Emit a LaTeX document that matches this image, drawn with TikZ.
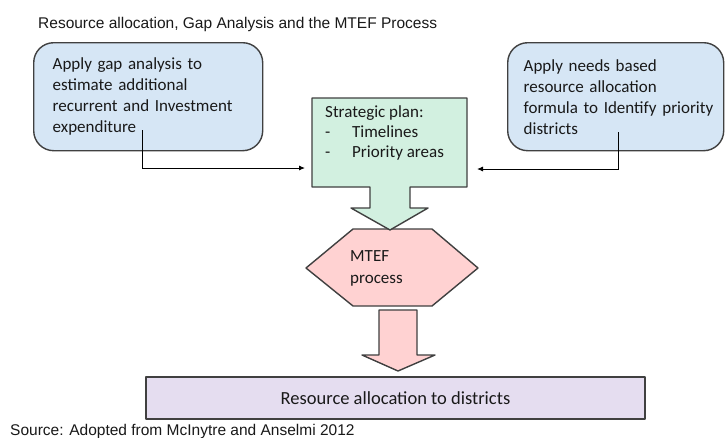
\documentclass[tikz,border=0pt]{standalone}
\usepackage{fontspec}
\setmainfont{Carlito}
\newfontfamily\arialfont{Liberation Sans}
\usetikzlibrary{arrows.meta,calc}
\definecolor{bluefill}{RGB}{214,230,245}
\definecolor{greenfill}{RGB}{210,240,224}
\definecolor{pinkfill}{RGB}{255,210,210}
\definecolor{purplefill}{RGB}{229,221,240}
\definecolor{edgecol}{RGB}{64,64,64}
\begin{document}
\begin{tikzpicture}[x=1pt,y=-1pt,
  boxtxt/.style={font=\fontsize{17}{21}\selectfont, text=black!90},
  outline/.style={draw=edgecol, line width=1.4pt, line join=round},
  conn/.style={draw=black, line width=0.9pt, -{Latex[length=6pt,width=5pt]}},
  sanstxt/.style={font=\arialfont\fontsize{15.5}{18}\selectfont, inner sep=0pt, text=black!90}]
\useasboundingbox (0,0) rectangle (725,437);
\fill[white] (0,0) rectangle (725,437);

% title
\node[sanstxt, anchor=base west] (title) at (38,28) {Resource allocation, Gap Analysis and the MTEF Process};

% side boxes
\node[outline, fill=bluefill, rounded corners=20pt, anchor=north west,
      minimum width=229pt, minimum height=108pt, inner xsep=19pt, inner ysep=0pt,
      text width=191pt, align=left, boxtxt] (lbox) at (33,42)
  {\mbox{Apply gap analysis to}\\ \mbox{estimate additional}\\ \mbox{recurrent and Investment}\\ \mbox{expenditure}};
\node[outline, fill=bluefill, rounded corners=20pt, anchor=north west,
      minimum width=216pt, minimum height=108pt, inner xsep=16pt, inner ysep=0pt,
      text width=184pt, align=left, boxtxt] (rbox) at (507,42)
  {\mbox{Apply needs based}\\ \mbox{resource allocation}\\ \mbox{formula to Identify priority}\\ \mbox{districts}};

% hexagon (MTEF)
\filldraw[outline, fill=pinkfill] (306,268) -- (353,229) -- (432,229) -- (478,268) -- (432,306) -- (353,306) -- cycle;
\node[boxtxt, font=\fontsize{17}{22}\selectfont, anchor=north west, align=left, inner sep=0pt] (mtef) at (350,250) {MTEF\\ process};

% strategic plan box with block arrow
\node[anchor=north west, minimum width=155pt, minimum height=89pt, inner sep=0pt] (gbox) at (312,98) {};
\filldraw[outline, fill=greenfill] (312,98) -- (467,98) -- (467,187) -- (410,187) -- (410,208) -- (428,208) -- (390,230)
   -- (351,208) -- (370,208) -- (370,187) -- (312,187) -- cycle;
\node[boxtxt, font=\fontsize{17}{20}\selectfont, anchor=north west, align=left, inner sep=0pt] (gtxt) at (325,105)
  {Strategic plan:\\ \makebox[27pt][l]{-}Timelines\\ \makebox[27pt][l]{-}Priority areas};

% block arrow to allocation
\filldraw[outline, fill=pinkfill] (379,310) -- (417,310) -- (417,355) -- (435,355) -- (398,371) -- (362,355) -- (379,355) -- cycle;

% resource allocation box
\node[outline, fill=purplefill, minimum width=499pt, minimum height=42pt, inner sep=0pt,
      font=\fontsize{18.5}{22}\selectfont, text=black!90] (pbox) at (395.5,398) {Resource allocation to districts};

% connectors
\coordinate (ls) at (142,130);
\coordinate (lt) at (305,168);
\coordinate (rs) at (618,132);
\coordinate (rt) at (477,169);
\draw[conn] (ls) |- (lt);
\draw[conn] (rs) |- (rt);

% source
\node[sanstxt, anchor=base west] (src) at (10,435) {Source: Adopted from McInytre and Anselmi 2012};
\end{tikzpicture}
\end{document}
